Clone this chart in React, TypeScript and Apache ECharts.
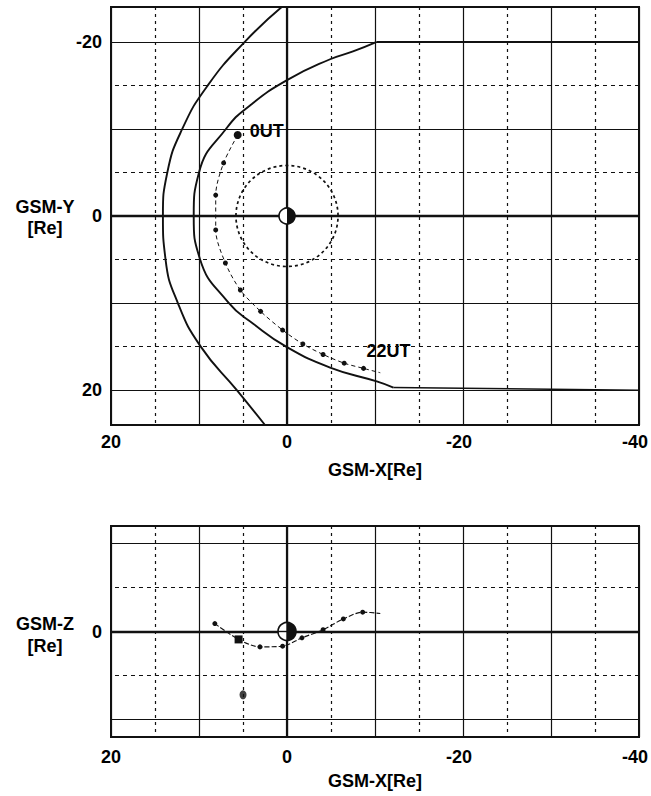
import React, { useEffect, useRef } from 'react';
import * as echarts from 'echarts';

const FONT = '"Liberation Sans", Arial, Helvetica, sans-serif';
const INK = '#111';

// ---- shared GSM-X axis ----
const xMin = -40;
const xMax = 20;
const xTickLabels = [20, 0, -20, -40];

// ---- top panel: GSM-Y ----
const yMin = -24;
const yMax = 24;
const yTickLabels = [-20, 0, 20];
const yMajorLines = [-20, -10, 10, 20];
const yMinorLines = [-15, -5, 5, 15];

// ---- bottom panel: GSM-Z ----
const zMin = -12;
const zMax = 12;
const zTickLabels = [0];
const zMajorLines = [-10, 10];
const zMinorLines = [-5, 5];

// bow shock (x, y)
const bowShockX = [0.6, 4.8, 9.0, 11.9, 13.6, 14.1, 13.8, 12.4, 9.8, 5.7, 2.5];
const bowShockY = [-24, -20, -15, -10, -5, 0, 5, 10, 15, 20, 24];

// magnetopause (x, y)
const mpX = [-10.2, -7.5, -4.9, 0, 4.2, 6.85, 10, 10.6, 9.9, 6.7, 3.8, 0.1, -4.9, -10.2, -12.1];
const mpY = [-20, -18.9, -18.0, -15.6, -12.7, -10.1, -5.0, 0, 4.9, 9.9, 12.4, 15.0, 17.4, 19.0, 19.7];
// magnetopause tail flanks
const mpTailNorthX = [-10.2, -40];
const mpTailNorthY = [-20, -20];
const mpTailSouthX = [-12.1, -40];
const mpTailSouthY = [19.7, 20];

// reference circle radius [Re]
const refCircleRadius = 5.8;

// spacecraft orbit, X-Y projection
const orbitTopX = [5.6, 7.2, 8.1, 8.1, 7.0, 5.3, 3.0, 0.5, -1.8, -4.1, -6.5, -8.7, -10.6];
const orbitTopY = [-9.3, -6.1, -2.4, 1.6, 5.4, 8.5, 10.95, 13.1, 14.7, 15.9, 16.9, 17.5, 18.0];
const utStartIndex = 0;
const utEndIndex = 11;
const utStartText = '0UT';
const utEndText = '22UT';

// spacecraft orbit, X-Z projection
const orbitBottomX = [8.2, 5.5, 3.07, 0.5, -1.7, -4.1, -6.4, -8.6, -10.6];
const orbitBottomZ = [0.9, -0.9, -1.75, -1.67, -0.72, 0.2, 1.43, 2.2, 2.05];
const isolatedX = [5.0];
const isolatedZ = [-7.2];

const earthPos = [0, 0];

const zip = (a: number[], b: number[]) => a.map((v, i) => [v, b[i]]);

function earthRender(radius: number, cross: boolean) {
  return (params: any, api: any) => {
    const c = api.coord([api.value(0), api.value(1)]);
    const children: any[] = [
      { type: 'circle', shape: { cx: c[0], cy: c[1], r: radius }, style: { fill: '#fff', stroke: INK, lineWidth: 1.6 } },
      {
        type: 'sector',
        shape: { cx: c[0], cy: c[1], r0: 0, r: radius, startAngle: -Math.PI / 2, endAngle: Math.PI / 2 },
        style: { fill: INK },
      },
    ];
    if (cross) {
      children.push(
        { type: 'line', shape: { x1: c[0] - radius, y1: c[1], x2: c[0] + radius, y2: c[1] }, style: { stroke: INK, lineWidth: 1.4 } },
        { type: 'line', shape: { x1: c[0], y1: c[1] - radius, x2: c[0], y2: c[1] + radius }, style: { stroke: INK, lineWidth: 1.4 } }
      );
    }
    return { type: 'group', children };
  };
}

function gridMarkLines(yMajors: number[], yMinors: number[]) {
  const solid = (v: number, axis: 'xAxis' | 'yAxis', width: number) => ({
    [axis]: v,
    lineStyle: { type: 'solid', width, color: INK },
  });
  const dashed = (v: number) => ({ yAxis: v, lineStyle: { type: [4, 4], width: 1.2, color: INK } });
  return {
    silent: true,
    symbol: 'none',
    label: { show: false },
    emphasis: { disabled: true },
    animation: false,
    lineStyle: { type: 'solid', width: 1.2, color: INK },
    data: [
      ...yMajors.map((v) => solid(v, 'yAxis', 1.2)),
      ...yMinors.map((v) => dashed(v)),
      solid(0, 'yAxis', 2.4),
      solid(0, 'xAxis', 2.2),
    ],
  };
}

function xAxisFor(gridIndex: number, labelMargin: number, nameGap: number) {
  return {
    type: 'value',
    gridIndex,
    min: xMin,
    max: xMax,
    interval: 10,
    inverse: true,
    name: 'GSM-X[Re]',
    nameLocation: 'middle',
    nameGap,
    nameTextStyle: { fontFamily: FONT, fontSize: 18, fontWeight: 'bold', color: '#000' },
    axisLine: { show: false },
    axisTick: { show: false },
    axisLabel: {
      margin: labelMargin,
      fontFamily: FONT,
      fontSize: 18,
      fontWeight: 'bold',
      color: '#000',
      formatter: (v: number) => (xTickLabels.includes(v) ? (v < 0 ? `{n|${v}}` : `${v}`) : ''),
      rich: {
        n: { fontFamily: FONT, fontSize: 18, fontWeight: 'bold', color: '#000', padding: [0, 8, 0, 0] },
      },
    },
    splitLine: { show: true, lineStyle: { color: INK, width: 1.2, type: 'solid' } },
    minorTick: { show: false, splitNumber: 2 },
    minorSplitLine: { show: true, lineStyle: { color: INK, width: 1.2, type: [3, 4] } },
  };
}

function yAxisFor(gridIndex: number, min: number, max: number, inverse: boolean, labels: number[]) {
  return {
    type: 'value',
    gridIndex,
    min,
    max,
    inverse,
    axisLine: { show: false },
    axisTick: { show: false },
    splitLine: { show: false },
    axisLabel: {
      margin: 9,
      fontFamily: FONT,
      fontSize: 18,
      fontWeight: 'bold',
      color: '#000',
      showMinLabel: true,
      showMaxLabel: true,
      formatter: (v: number) => (labels.includes(v) ? `${v}` : ''),
    },
  };
}

export default function App() {
  const ref = useRef<HTMLDivElement>(null);

  useEffect(() => {
    if (!ref.current) return;
    const chart = echarts.init(ref.current, undefined, { renderer: 'svg' });

    const utLabel = (text: string, offset: number[]) => ({
      show: true,
      formatter: text,
      position: 'inside',
      offset,
      fontFamily: FONT,
      fontSize: 18,
      fontWeight: 'bold',
      color: '#000',
      textBorderWidth: 0,
    });

    const orbitTopData = orbitTopX.map((x, i) => {
      const item: any = { value: [x, orbitTopY[i]] };
      if (i === orbitTopX.length - 1) item.symbol = 'none';
      if (i === utStartIndex) {
        item.symbolSize = 8;
        item.label = utLabel(utStartText, [29, -4]);
      }
      if (i === utEndIndex) {
        item.label = utLabel(utEndText, [25, -17]);
      }
      return item;
    });

    const orbitBottomData = orbitBottomX.map((x, i) => {
      const item: any = { value: [x, orbitBottomZ[i]] };
      if (i === orbitBottomX.length - 1) item.symbol = 'none';
      if (i === 1) {
        item.symbol = 'rect';
        item.symbolSize = 8;
      }
      return item;
    });

    const curveStyle = { color: INK, width: 1.9 };

    const option: any = {
      animation: false,
      backgroundColor: '#fff',
      grid: [
        { left: 111, top: 7, width: 529, height: 418, show: true, borderColor: INK, borderWidth: 2, backgroundColor: 'transparent' },
        { left: 111, top: 526, width: 529, height: 211, show: true, borderColor: INK, borderWidth: 2, backgroundColor: 'transparent' },
      ],
      xAxis: [xAxisFor(0, 8, 36), xAxisFor(1, 11, 35)],
      yAxis: [yAxisFor(0, yMin, yMax, true, yTickLabels), yAxisFor(1, zMin, zMax, false, zTickLabels)],
      graphic: [
        {
          type: 'text',
          x: 45,
          y: 217,
          silent: true,
          style: {
            text: 'GSM-Y\n[Re]',
            fill: '#000',
            font: `bold 18px ${FONT}`,
            align: 'center',
            verticalAlign: 'middle',
            lineHeight: 21,
          },
        },
        {
          type: 'text',
          x: 45,
          y: 635,
          silent: true,
          style: {
            text: 'GSM-Z\n[Re]',
            fill: '#000',
            font: `bold 18px ${FONT}`,
            align: 'center',
            verticalAlign: 'middle',
            lineHeight: 22,
          },
        },
      ],
      series: [
        {
          name: 'Bow shock',
          type: 'line',
          xAxisIndex: 0,
          yAxisIndex: 0,
          data: zip(bowShockX, bowShockY),
          smooth: 0.5,
          showSymbol: false,
          symbol: 'none',
          lineStyle: curveStyle,
          silent: true,
          markLine: gridMarkLines(yMajorLines, yMinorLines),
        },
        {
          name: 'Magnetopause',
          type: 'line',
          xAxisIndex: 0,
          yAxisIndex: 0,
          data: zip(mpX, mpY),
          smooth: 0.5,
          symbol: 'none',
          lineStyle: curveStyle,
          silent: true,
        },
        {
          name: 'Magnetopause tail N',
          type: 'line',
          xAxisIndex: 0,
          yAxisIndex: 0,
          data: zip(mpTailNorthX, mpTailNorthY),
          symbol: 'none',
          lineStyle: { color: INK, width: 1.5 },
          silent: true,
        },
        {
          name: 'Magnetopause tail S',
          type: 'line',
          xAxisIndex: 0,
          yAxisIndex: 0,
          data: zip(mpTailSouthX, mpTailSouthY),
          symbol: 'none',
          lineStyle: { color: INK, width: 1.5 },
          silent: true,
        },
        {
          name: 'Reference circle',
          type: 'custom',
          xAxisIndex: 0,
          yAxisIndex: 0,
          data: [[earthPos[0], earthPos[1], refCircleRadius]],
          silent: true,
          z: 3,
          renderItem: (params: any, api: any) => {
            const c = api.coord([api.value(0), api.value(1)]);
            const s = api.size([api.value(2), api.value(2)]);
            return {
              type: 'ellipse',
              shape: { cx: c[0], cy: c[1], rx: Math.abs(s[0]), ry: Math.abs(s[1]) },
              style: { fill: 'none', stroke: INK, lineWidth: 1.7, lineDash: [3, 3] },
            };
          },
        },
        {
          name: 'Orbit XY',
          type: 'line',
          xAxisIndex: 0,
          yAxisIndex: 0,
          data: orbitTopData,
          smooth: 0.3,
          symbol: 'circle',
          symbolSize: 5,
          showAllSymbol: true,
          itemStyle: { color: INK },
          lineStyle: { color: INK, width: 1, type: [4, 3] },
          silent: true,
          z: 4,
        },
        {
          name: 'Earth XY',
          type: 'custom',
          xAxisIndex: 0,
          yAxisIndex: 0,
          data: [earthPos],
          silent: true,
          z: 6,
          renderItem: earthRender(8, false),
        },
        {
          name: 'Orbit XZ',
          type: 'line',
          xAxisIndex: 1,
          yAxisIndex: 1,
          data: orbitBottomData,
          smooth: 0.3,
          symbol: 'circle',
          symbolSize: 5,
          showAllSymbol: true,
          itemStyle: { color: INK },
          lineStyle: { color: INK, width: 1.1, type: [5, 2] },
          silent: true,
          z: 4,
          markLine: gridMarkLines(zMajorLines, zMinorLines),
        },
        {
          name: 'Isolated XZ',
          type: 'scatter',
          xAxisIndex: 1,
          yAxisIndex: 1,
          data: zip(isolatedX, isolatedZ),
          symbol: 'circle',
          symbolSize: [7, 9],
          itemStyle: { color: INK },
          silent: true,
          z: 4,
        },
        {
          name: 'Earth XZ',
          type: 'custom',
          xAxisIndex: 1,
          yAxisIndex: 1,
          data: [earthPos],
          silent: true,
          z: 6,
          renderItem: earthRender(9, true),
        },
      ],
    };

    chart.setOption(option);
    return () => {
      chart.dispose();
    };
  }, []);

  return (
    <div
      ref={ref}
      style={{ position: 'fixed', left: 0, top: 0, width: 651, height: 796, background: '#fff' }}
    />
  );
}
